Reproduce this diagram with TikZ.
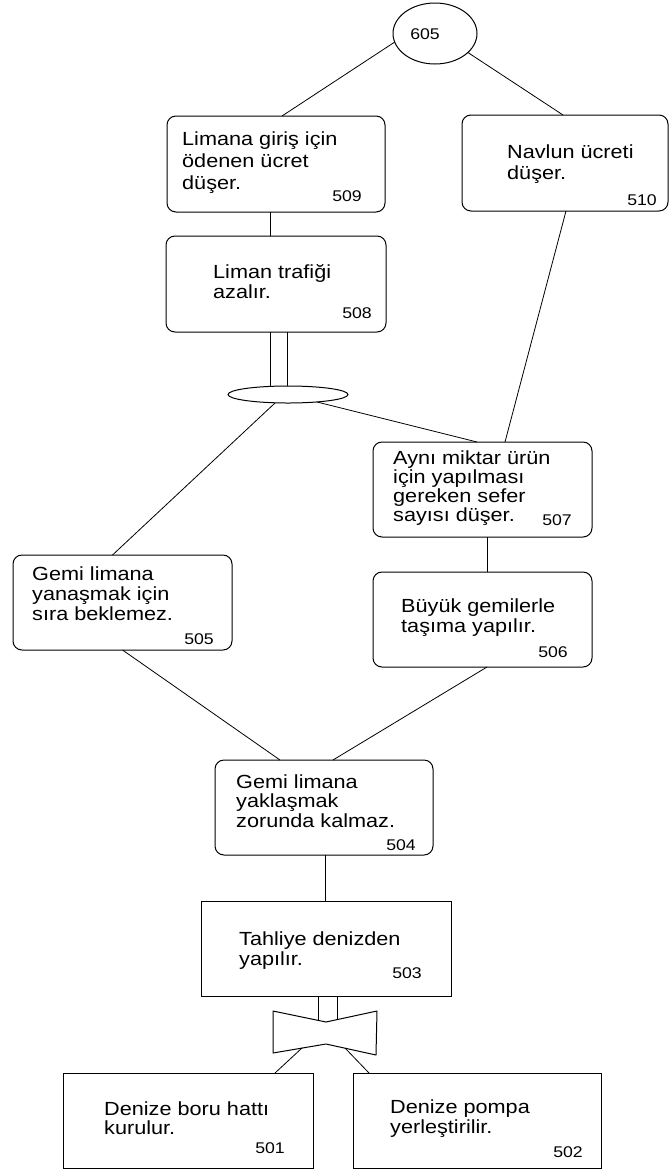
\documentclass[tikz,border=0pt]{standalone}
\usepackage{fontspec}
\usetikzlibrary{shapes.geometric}
\newfontfamily\lbl[FakeStretch=1.14]{Liberation Sans}
\begin{document}
\begin{tikzpicture}[x=1pt,y=-1pt,
  rbox/.style={draw,line width=1pt,rounded corners=9pt,inner sep=0pt,outer sep=0pt},
  sbox/.style={draw,line width=1pt,inner sep=0pt,outer sep=0pt},
  conn/.style={line width=0.8pt},
  txt/.style={inner sep=0pt,anchor=north west,align=left,font=\lbl\fontsize{19}{20}\selectfont},
  num/.style={inner sep=0pt,anchor=base,font=\lbl\fontsize{15.5}{17}\selectfont}]
\useasboundingbox[fill=white] (0,0) rectangle (670,1171);

% nodes
\node[draw,ellipse,line width=1pt,inner sep=0pt,outer sep=0pt,minimum width=84pt,minimum height=61pt] (c605) at (435,33.5) {};
\node[num] (n605) at (425,39) {605};

\node[rbox,minimum width=218pt,minimum height=96pt] (b509) at (276,164) {};
\node[txt,font=\lbl\fontsize{19}{22}\selectfont] (t509) at (182,130) {\rule{0pt}{15pt}Limana giriş için\\ödenen ücret\\düşer.};
\node[num] (n509) at (347,201) {509};

\node[rbox,minimum width=206pt,minimum height=96pt] (b510) at (565,163) {};
\node[txt,font=\lbl\fontsize{19}{21}\selectfont] (t510) at (507,143) {\rule{0pt}{15pt}Navlun ücreti\\düşer.};
\node[num] (n510) at (642,205) {510};

\node[rbox,minimum width=220pt,minimum height=96pt] (b508) at (276,284) {};
\node[txt] (t508) at (213,263) {\rule{0pt}{15pt}Liman trafiği\\azalır.};
\node[num] (n508) at (357,318) {508};

\node[draw,ellipse,line width=1pt,inner sep=0pt,outer sep=0pt,minimum width=120pt,minimum height=17pt] (J1) at (288,394.5) {};

\node[rbox,minimum width=219pt,minimum height=95pt] (b507) at (482.5,489.5) {};
\node[txt,font=\lbl\fontsize{19}{19}\selectfont] (t507) at (393,449) {\rule{0pt}{15pt}Aynı miktar ürün\\için yapılması\\gereken sefer\\sayısı düşer.};
\node[num] (n507) at (557,525) {507};

\node[rbox,minimum width=219pt,minimum height=95pt] (b506) at (482.5,619.5) {};
\node[txt] (t506) at (401,597) {\rule{0pt}{15pt}Büyük gemilerle\\taşıma yapılır.};
\node[num] (n506) at (553,657) {506};

\node[rbox,minimum width=219pt,minimum height=95pt] (b505) at (122.5,602.5) {};
\node[txt] (t505) at (32,565) {\rule{0pt}{15pt}Gemi limana\\yanaşmak için\\sıra beklemez.};
\node[num] (n505) at (199,644) {505};

\node[rbox,minimum width=218pt,minimum height=95pt] (b504) at (324,807.5) {};
\node[txt,font=\lbl\fontsize{19}{19.5}\selectfont] (t504) at (236,773) {\rule{0pt}{15pt}Gemi limana\\yaklaşmak\\zorunda kalmaz.};
\node[num] (n504) at (401,850) {504};

\node[sbox,minimum width=250pt,minimum height=95pt] (b503) at (326,948.5) {};
\node[txt] (t503) at (239,930) {\rule{0pt}{15pt}Tahliye denizden\\yapılır.};
\node[num] (n503) at (407,978) {503};

\node[sbox,minimum width=250pt,minimum height=95pt] (b501) at (188,1120.5) {};
\node[txt,font=\lbl\fontsize{19}{19}\selectfont] (t501) at (104,1100) {\rule{0pt}{15pt}Denize boru hattı\\kurulur.};
\node[num] (n501) at (270,1153) {501};

\node[sbox,minimum width=248pt,minimum height=95pt] (b502) at (477,1120.5) {};
\node[txt] (t502) at (390,1098) {\rule{0pt}{15pt}Denize pompa\\yerleştirilir.};
\node[num] (n502) at (568,1157) {502};

% bow tie
\coordinate (bwA) at (273,1011);
\coordinate (bwB) at (326,1022);
\coordinate (bwC) at (377,1011);
\coordinate (bwD) at (376,1055);
\coordinate (bwE) at (326,1044);
\coordinate (bwF) at (273,1053);
\draw[line width=1pt,line join=round] (bwA) -- (bwB) -- (bwC) -- (bwD) -- (bwE) -- (bwF) -- cycle;
\coordinate (bt1) at (318,1020.3);
\coordinate (bt2) at (337,1019.6);
\coordinate (bb1) at (302,1048);
\coordinate (bb2) at (345,1048);

% connectors
\draw[conn] (c605.192) -- ([xshift=6pt]b509.north);
\draw[conn] (c605.330) -- ([xshift=-2pt]b510.north);
\draw[conn] ([xshift=-6pt]b509.south) -- ([xshift=-6pt]b508.north);
\draw[conn] ([xshift=-6pt]b508.south) -- ([xshift=-6pt]b508.south |- J1.north);
\draw[conn] ([xshift=11pt]b508.south) -- ([xshift=11pt]b508.south |- J1.north);
\draw[conn] ([xshift=-13pt]J1.south) -- ([xshift=-10pt]b505.north);
\draw[conn] ([xshift=29pt,yshift=1pt]J1.south) -- ([xshift=-5.5pt]b507.north);
\draw[conn] ([xshift=1pt]b510.south) -- ([xshift=22.5pt]b507.north);
\draw[conn] ([xshift=4.5pt]b507.south) -- ([xshift=4.5pt]b506.north);
\draw[conn] (b505.south) -- ([xshift=-44pt]b504.north);
\draw[conn] ([xshift=4.5pt]b506.south) -- ([xshift=9pt]b504.north);
\draw[conn] ([xshift=1pt]b504.south) -- ([xshift=-1pt]b503.north);
\draw[conn] ([xshift=-8pt]b503.south) -- (bt1);
\draw[conn] ([xshift=11pt]b503.south) -- (bt2);
\draw[conn] (bb1) -- ([xshift=-38pt]b501.north east);
\draw[conn] (bb2) -- ([xshift=16pt]b502.north west);
\end{tikzpicture}
\end{document}
